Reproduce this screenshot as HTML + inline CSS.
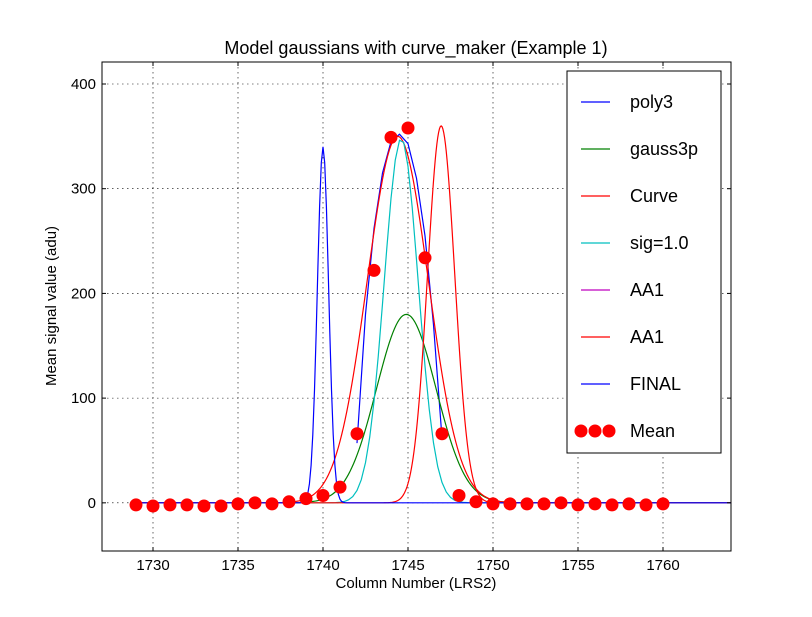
<!DOCTYPE html>
<html><head><meta charset="utf-8"><style>
body{margin:0;background:#fff;}
svg text{font-family:"Liberation Sans","DejaVu Sans",sans-serif;}
</style></head><body>
<svg id="chart" width="812" height="612" xmlns="http://www.w3.org/2000/svg">
<rect width="812" height="612" fill="#fff"/>
<g id="grid"></g>
<g id="series"></g>
<g id="axes"></g>
<text x="416" y="54" font-size="18" text-anchor="middle">Model gaussians with curve_maker (Example 1)</text>
<text x="416" y="588" font-size="15" text-anchor="middle">Column Number (LRS2)</text>
<text x="56" y="306" font-size="15" text-anchor="middle" transform="rotate(-90 56 306)">Mean signal value (adu)</text>
<g id="legend"></g>
</svg>
<script>
const xTicks=[1730,1735,1740,1745,1750,1755,1760];
const yTicks=[0,100,200,300,400];
const meanCols=[1729,1730,1731,1732,1733,1734,1735,1736,1737,1738,1739,1740,1741,1742,1743,1744,1745,1746,1747,1748,1749,1750,1751,1752,1753,1754,1755,1756,1757,1758,1759,1760];
const meanVals=[-2,-3,-2,-2,-3,-3,-1,0,-1,1,4,7,15,66,222,349,358,234,66,7,1,-1,-1,-1,-1,0,-2,-1,-2,-1,-2,-1];
const poly3Cols=[1742,1742.5,1743,1743.5,1744,1744.5,1745,1745.5,1746,1746.5,1747];
const poly3Vals=[57,180,262,315,345,352,343,310,255,170,62];
// gaussian model params: name, amplitude, center, sigma
const gaussNames=["gauss3p","Curve","sig=1.0","AA1","FINAL"];
const gaussAmps=[180,350,348,360,340];
const gaussCenters=[1744.9,1744.4,1744.6,1746.95,1740];
const gaussSigmas=[1.75,1.8,1.0,0.8,0.33];
const gaussColors=["#008000","#ff0000","#00bfbf","#ff0000","#0000ff"];
const gaussSteps=[0.1,0.1,0.25,0.05,0.1];

const L=102,R=731,T=62,B=551,x0=1727,x1=1764,y0=-46,y1=421;
const X=v=>L+(v-x0)/(x1-x0)*(R-L);
const Y=v=>B-(v-y0)/(y1-y0)*(B-T);
const NS="http://www.w3.org/2000/svg";
function mk(tag,attrs,parent){const e=document.createElementNS(NS,tag);for(const k in attrs)e.setAttribute(k,attrs[k]);parent.appendChild(e);return e;}
const grid=document.getElementById('grid'),axes=document.getElementById('axes'),ser=document.getElementById('series'),leg=document.getElementById('legend');
xTicks.forEach(t=>{
  const g=mk('line',{x1:X(t),x2:X(t),y1:T,y2:B,stroke:'#000','stroke-width':0.6,'stroke-dasharray':'1.5,3.5'},grid);
  
  
  [[B,B-4],[T,T+4]].forEach(p=>{const k=mk('line',{x1:X(t),x2:X(t),y1:p[0],y2:p[1],stroke:'#000'},axes);
  
  });
  const tx=mk('text',{x:X(t),y:B+19,'font-size':15,'text-anchor':'middle'},axes);tx.textContent=t;
  
  
});
yTicks.forEach(t=>{
  const g=mk('line',{x1:L,x2:R,y1:Y(t),y2:Y(t),stroke:'#000','stroke-width':0.6,'stroke-dasharray':'1.5,3.5'},grid);
  
  
  [[L,L+4],[R,R-4]].forEach(p=>{const k=mk('line',{x1:p[0],x2:p[1],y1:Y(t),y2:Y(t),stroke:'#000'},axes);
  
  });
  const tx=mk('text',{x:L-6,y:Y(t)+5,'font-size':15,'text-anchor':'end'},axes);tx.textContent=t;
  
  
});
const fr=mk('rect',{x:L,y:T,width:R-L,height:B-T,fill:'none',stroke:'#000'},axes);



const pp=mk('polyline',{points:poly3Cols.map((c,i)=>X(c)+','+Y(poly3Vals[i])).join(' '),fill:'none',stroke:'#0000ff','stroke-width':1.2},ser);


gaussNames.forEach((n,i)=>{
  const pts=[];
  for(let c=1729;c<=1764.001;c+=gaussSteps[i]){const v=gaussAmps[i]*Math.exp(-Math.pow(c-gaussCenters[i],2)/(2*gaussSigmas[i]*gaussSigmas[i]));pts.push(X(c).toFixed(2)+','+Y(v).toFixed(2));}
  const p=mk('polyline',{points:pts.join(' '),fill:'none',stroke:gaussColors[i],'stroke-width':1.2},ser);
  
  
});
meanCols.forEach((c,i)=>{
  const d=mk('circle',{cx:X(c),cy:Y(meanVals[i]),r:6.5,fill:'#ff0000'},ser);
  
  
});

const lb=mk('rect',{x:567,y:71,width:154,height:382,fill:'#fff',stroke:'#000'},leg);


const legNames=["poly3","gauss3p","Curve","sig=1.0","AA1","AA1","FINAL","Mean"];
const legColors=["#0000ff","#008000","#ff0000","#00bfbf","#bf00bf","#ff0000","#0000ff","#ff0000"];
legNames.forEach((n,i)=>{
  const y=102+i*47;
  if(n==="Mean"){[581,595,609].forEach(cx=>{const d=mk('circle',{cx:cx,cy:y,r:6.5,fill:'#ff0000'},leg);
    
    });}
  else{const l=mk('line',{x1:581,x2:610,y1:y,y2:y,stroke:legColors[i],'stroke-width':1.2},leg);
    
    }
  const t=mk('text',{x:630,y:y+6,'font-size':18},leg);t.textContent=n;
  
  
});
</script>
</body></html>
